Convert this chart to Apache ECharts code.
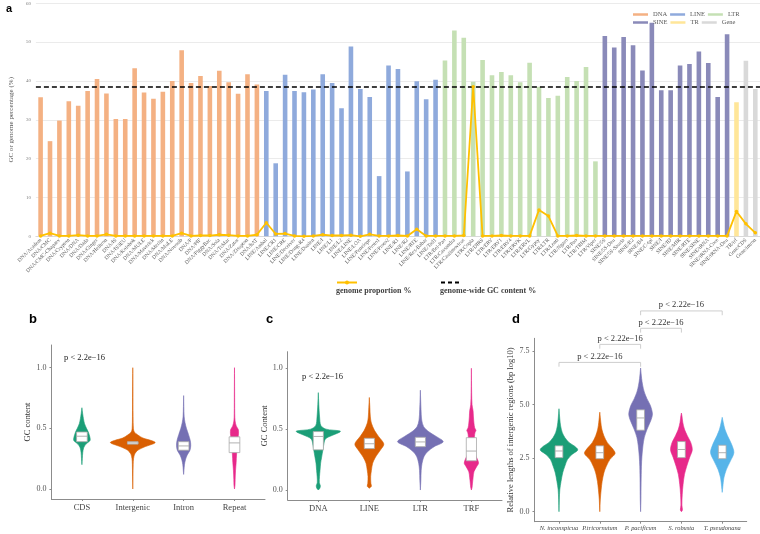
<!DOCTYPE html>
<html>
<head>
<meta charset="utf-8">
<script src="https://cdn.jsdelivr.net/npm/echarts@6/dist/echarts.min.js"></script>
<style>
  html, body { margin: 0; padding: 0; background: #fff; }
  #main { width: 760px; height: 534px; }
</style>
</head>
<body>
<div id="main"></div>
<script>
// ---- panel a: GC content per repeat class ----
const dnaNames = ['DNA/Academ', 'DNA/CMC', 'DNA/CMC-Chapaev', 'DNA/Crypton', 'DNA/DNA', 'DNA/Dada', 'DNA/Ginger', 'DNA/Helitron', 'DNA/IS', 'DNA/IS3EU', 'DNA/Kolobok', 'DNA/MULE', 'DNA/Maverick', 'DNA/Merlin', 'DNA/MuLE', 'DNA/Novosib', 'DNA/P', 'DNA/PIF', 'DNA/PiggyBac', 'DNA/Sola', 'DNA/TcMar', 'DNA/Zator', 'DNA/Zisupton', 'DNA/hAT'];
const dnaGC = [35.8, 24.5, 29.8, 34.8, 33.6, 37.4, 40.5, 36.8, 30.2, 30.2, 43.3, 37.0, 35.4, 37.2, 40.0, 47.9, 39.5, 41.3, 38.7, 42.6, 39.7, 36.7, 41.7, 39.1];
const dnaProp = [0.1, 0.8, 0.1, 0.1, 0.3, 0.1, 0.1, 0.5, 0.1, 0.1, 0.1, 0.1, 0.1, 0.1, 0.1, 0.8, 0.1, 0.2, 0.2, 0.4, 0.3, 0.1, 0.1, 0.4];

const lineNames = ['LINE/Ambal', 'LINE/CR1', 'LINE/CRE', 'LINE/Deceiver', 'LINE/Dong-R4', 'LINE/Dualen', 'LINE/I', 'LINE/L1', 'LINE/L2', 'LINE/LINE', 'LINE/LOA', 'LINE/Penelope', 'LINE/Proto1', 'LINE/Proto2', 'LINE/R1', 'LINE/R2', 'LINE/RTE', 'LINE/Rex-Babar', 'LINE/Tad1'];
const lineGC = [37.4, 18.8, 41.6, 37.4, 37.1, 37.8, 41.7, 39.5, 33.0, 48.9, 37.9, 35.9, 15.5, 44.0, 43.1, 16.7, 39.9, 35.3, 40.3];
const lineProp = [3.5, 0.6, 0.7, 0.1, 0.0, 0.1, 0.4, 0.2, 0.2, 0.3, 0.0, 0.5, 0.1, 0.1, 0.2, 0.1, 1.8, 0.1, 0.1];

const ltrNames = ['LTR/Bel-Pao', 'LTR/Cassandra', 'LTR/Caulimovirus', 'LTR/Copia', 'LTR/DIRS', 'LTR/ERV', 'LTR/ERV1', 'LTR/ERV4', 'LTR/ERVK', 'LTR/ERVL', 'LTR/Gypsy', 'LTR/LTR', 'LTR/Lenti', 'LTR/Ngaro', 'LTR/Pao', 'LTR/TRIM', 'LTR/Viper'];
const ltrGC = [45.3, 53.0, 51.1, 39.8, 45.4, 41.5, 42.3, 41.5, 39.7, 44.7, 38.5, 35.6, 36.2, 41.0, 40.0, 43.6, 19.3];
const ltrProp = [0.1, 0.1, 0.2, 38.5, 0.1, 0.1, 0.2, 0.1, 0.1, 0.1, 6.8, 5.2, 0.1, 0.1, 0.2, 0.1, 0.1];

const sineNames = ['SINE/5S', 'SINE/5S-Deu', 'SINE/5S-Sauria', 'SINE/B2', 'SINE/B4', 'SINE/C-tpl', 'SINE/I', 'SINE/ID', 'SINE/MIR', 'SINE/RTE', 'SINE/SINE', 'SINE/tRNA', 'SINE/tRNA-Core', 'SINE/tRNA-Deu'];
const sineGC = [51.6, 48.6, 51.3, 49.2, 42.7, 55.0, 37.6, 37.6, 44.0, 44.4, 47.6, 44.6, 35.9, 52.0];
const sineProp = [0.1, 0.1, 0.1, 0.1, 0.1, 0.1, 0.1, 0.1, 0.1, 0.1, 0.1, 0.1, 0.1, 0.1];

const trNames = ['TR/trf'];
const trGC = [34.5];
const trProp = [6.4];

const geneNames = ['Gene/CDS', 'Gene/intron'];
const geneGC = [45.2, 37.9];
const geneProp = [3.2, 0.9];

const genomeGC = 38.6;

// ---- panel b: GC content by region ----
const bCats = ['CDS', 'Intergenic', 'Intron', 'Repeat'];
const bCdsShape = [[0.2, 0], [0.25, 0.008], [0.30, 0.016], [0.34, 0.035], [0.37, 0.08], [0.40, 0.16], [0.43, 0.155], [0.47, 0.125], [0.50, 0.09], [0.54, 0.05], [0.58, 0.03], [0.62, 0.015], [0.67, 0]];
const bIntergenicShape = [[0, 0], [0.1, 0.004], [0.2, 0.008], [0.25, 0.015], [0.29, 0.04], [0.32, 0.1], [0.35, 0.25], [0.375, 0.42], [0.385, 0.44], [0.40, 0.36], [0.42, 0.2], [0.445, 0.1], [0.47, 0.03], [0.5, 0.012], [0.6, 0.006], [0.8, 0.004], [1.0, 0]];
const bIntronShape = [[0.12, 0], [0.15, 0.006], [0.2, 0.016], [0.24, 0.035], [0.28, 0.07], [0.32, 0.125], [0.36, 0.14], [0.40, 0.13], [0.45, 0.095], [0.50, 0.055], [0.55, 0.026], [0.6, 0.01], [0.68, 0.004], [0.77, 0]];
const bRepeatShape = [[0, 0], [0.03, 0.01], [0.08, 0.013], [0.15, 0.02], [0.22, 0.033], [0.28, 0.04], [0.33, 0.05], [0.38, 0.06], [0.42, 0.07], [0.46, 0.08], [0.49, 0.075], [0.52, 0.035], [0.56, 0.012], [0.62, 0.005], [0.8, 0.003], [1.0, 0]];
const bBoxes = [[0.39, 0.435, 0.47], [0.37, 0.38, 0.39], [0.32, 0.355, 0.39], [0.30, 0.38, 0.43]];

// ---- panel c: GC content by repeat class ----
const cCats = ['DNA', 'LINE', 'LTR', 'TRF'];
const cDnaShape = [[0, 0], [0.015, 0.03], [0.035, 0.04], [0.06, 0.02], [0.11, 0.023], [0.16, 0.033], [0.22, 0.045], [0.27, 0.065], [0.33, 0.09], [0.38, 0.11], [0.42, 0.14], [0.45, 0.28], [0.475, 0.42], [0.485, 0.43], [0.50, 0.15], [0.53, 0.05], [0.6, 0.025], [0.7, 0.01], [0.8, 0]];
const cLineShape = [[0.015, 0], [0.03, 0.04], [0.055, 0.03], [0.11, 0.026], [0.16, 0.04], [0.22, 0.065], [0.27, 0.12], [0.33, 0.22], [0.378, 0.284], [0.44, 0.18], [0.49, 0.1], [0.55, 0.04], [0.6, 0.02], [0.68, 0.01], [0.76, 0]];
const cLtrShape = [[0, 0], [0.08, 0.01], [0.16, 0.016], [0.22, 0.033], [0.274, 0.07], [0.315, 0.14], [0.356, 0.27], [0.397, 0.448], [0.44, 0.31], [0.48, 0.16], [0.52, 0.065], [0.575, 0.026], [0.66, 0.013], [0.74, 0.006], [0.82, 0]];
const cTrfShape = [[0, 0], [0.02, 0.013], [0.05, 0.02], [0.1, 0.033], [0.15, 0.05], [0.19, 0.1], [0.22, 0.14], [0.25, 0.12], [0.3, 0.07], [0.35, 0.06], [0.4, 0.06], [0.44, 0.06], [0.47, 0.07], [0.49, 0.09], [0.51, 0.065], [0.55, 0.05], [0.6, 0.04], [0.65, 0.033], [0.7, 0.013], [0.8, 0.005], [1.0, 0]];
const cBoxes = [[0.33, 0.44, 0.48], [0.34, 0.38, 0.425], [0.356, 0.395, 0.433], [0.24, 0.32, 0.43]];

// ---- panel d: intergenic lengths ----
const dCats = ['N. inconspicua', 'P.tricornutum', 'P. pacificum', 'S. robusta', 'T. pseudonana'];
const dNincShape = [[0, 0], [0.55, 0.008], [1.02, 0.02], [1.41, 0.05], [1.81, 0.09], [2.12, 0.143], [2.44, 0.21], [2.67, 0.32], [2.88, 0.46], [3.07, 0.37], [3.22, 0.25], [3.46, 0.143], [3.69, 0.08], [4.0, 0.04], [4.32, 0.02], [4.8, 0]];
const dPtriShape = [[0, 0], [0.55, 0.012], [1.02, 0.033], [1.41, 0.057], [1.81, 0.1], [2.12, 0.16], [2.44, 0.25], [2.72, 0.376], [2.99, 0.29], [3.22, 0.185], [3.54, 0.1], [3.85, 0.05], [4.17, 0.025], [4.64, 0]];
const dPpacShape = [[0, 0], [0.55, 0.008], [1.34, 0.012], [2.12, 0.02], [2.59, 0.033], [3.07, 0.057], [3.46, 0.09], [3.85, 0.16], [4.25, 0.25], [4.55, 0.29], [4.95, 0.24], [5.27, 0.155], [5.58, 0.09], [5.9, 0.05], [6.21, 0.025], [6.7, 0]];
const dSrobShape = [[0, 0], [0.08, 0.025], [0.31, 0.012], [0.79, 0.02], [1.26, 0.04], [1.73, 0.074], [2.12, 0.13], [2.52, 0.2], [2.88, 0.266], [3.22, 0.23], [3.54, 0.145], [3.85, 0.074], [4.17, 0.033], [4.48, 0.012], [4.6, 0]];
const dTpseShape = [[0.9, 0], [1.18, 0.016], [1.57, 0.04], [1.96, 0.1], [2.36, 0.2], [2.75, 0.286], [3.14, 0.23], [3.54, 0.13], [3.85, 0.065], [4.17, 0.025], [4.4, 0]];
const dBoxes = [[2.52, 2.83, 3.07], [2.47, 2.75, 3.07], [3.8, 4.37, 4.75], [2.52, 2.9, 3.27], [2.47, 2.75, 3.1]];
const dBracketFrom = [1, 2, 3, 3];
const dBracketTo = [3, 3, 4, 5];
const dBracketY = [6.96, 7.8, 8.55, 9.36];
const dBracketLabel = 'p < 2.22e\u221216';

// ---------------------------------------------------------------
const serif = 'Liberation Serif';
const classColors = ['#F4B183', '#8FAADC', '#C5E0B4', '#8A8AB9', '#FFE699', '#D9D9D9'];
const violinColors = ['#1B9E77', '#D95F02', '#7570B3', '#E7298A', '#56B4E9'];

const groups = [
  { name: 'DNA', labels: dnaNames, gc: dnaGC, prop: dnaProp },
  { name: 'LINE', labels: lineNames, gc: lineGC, prop: lineProp },
  { name: 'LTR', labels: ltrNames, gc: ltrGC, prop: ltrProp },
  { name: 'SINE', labels: sineNames, gc: sineGC, prop: sineProp },
  { name: 'TR', labels: trNames, gc: trGC, prop: trProp },
  { name: 'Gene', labels: geneNames, gc: geneGC, prop: geneProp },
];
const categories = [].concat(...groups.map(g => g.labels));
const proportion = [].concat(...groups.map(g => g.prop));

let offset = 0;
const barSeries = groups.map((g, k) => {
  const data = categories.map(() => '-');
  g.gc.forEach((v, j) => { data[offset + j] = v; });
  offset += g.gc.length;
  return {
    name: g.name,
    type: 'bar',
    stack: 'gc',
    xAxisIndex: 0,
    yAxisIndex: 0,
    barWidth: 4.6,
    itemStyle: { color: classColors[k] },
    data: data,
  };
});

function violinRenderer(shapes, boxes, boxHalf) {
  return function (params, api) {
    const i = params.dataIndex;
    const x = i + 1;
    const prof = shapes[i];
    const left = prof.map(p => api.coord([x - p[1], p[0]]));
    const right = prof.slice().reverse().map(p => api.coord([x + p[1], p[0]]));
    const color = violinColors[i];
    const b = boxes[i];
    const tl = api.coord([x - boxHalf, b[2]]);
    const br = api.coord([x + boxHalf, b[0]]);
    const ml = api.coord([x - boxHalf, b[1]]);
    const mr = api.coord([x + boxHalf, b[1]]);
    return {
      type: 'group',
      children: [
        { type: 'polygon', shape: { points: left.concat(right), smooth: 0.3 }, style: { fill: color, stroke: color, lineWidth: 0.6 } },
        { type: 'rect', shape: { x: tl[0], y: tl[1], width: br[0] - tl[0], height: br[1] - tl[1] }, style: { fill: '#fff', stroke: '#a8a8a8', lineWidth: 0.8 } },
        { type: 'line', shape: { x1: ml[0], y1: ml[1], x2: mr[0], y2: mr[1] }, style: { stroke: '#a8a8a8', lineWidth: 0.9 } },
      ],
    };
  };
}

function violinX(gridIndex, cats, max, fontSize, italic) {
  return {
    type: 'value', gridIndex: gridIndex, min: 0.4, max: max,
    axisLine: { show: true, onZero: false, lineStyle: { color: '#8c8c8c', width: 1 } },
    axisTick: { show: true, length: 2, customValues: cats.map((c, i) => i + 1), lineStyle: { color: '#8c8c8c' } },
    axisLabel: {
      customValues: cats.map((c, i) => i + 1),
      formatter: v => cats[Math.round(v) - 1],
      fontFamily: serif, fontSize: fontSize, color: '#444', margin: 4,
      fontStyle: italic ? 'italic' : 'normal',
    },
    splitLine: { show: false },
  };
}

function violinY(gridIndex, min, max, ticks, name, nameGap) {
  return {
    type: 'value', gridIndex: gridIndex, min: min, max: max,
    name: name, nameLocation: 'middle', nameGap: nameGap,
    nameTextStyle: { fontFamily: serif, fontSize: 8.5, color: '#333' },
    axisLine: { show: true, onZero: false, lineStyle: { color: '#8c8c8c', width: 1 } },
    axisTick: { show: true, length: 2, customValues: ticks, lineStyle: { color: '#8c8c8c' } },
    axisLabel: {
      customValues: ticks, formatter: v => v.toFixed(1),
      fontFamily: serif, fontSize: 8, color: '#555', margin: 5,
    },
    splitLine: { show: false },
  };
}

const chart = echarts.init(document.getElementById('main'));

const option = {
  animation: false,
  backgroundColor: '#fff',
  title: [
    { text: 'a', left: 1, top: -2, textStyle: { fontFamily: 'Liberation Sans', fontWeight: 'bold', fontSize: 11, color: '#000' } },
    { text: 'b', left: 24, top: 308, textStyle: { fontFamily: 'Liberation Sans', fontWeight: 'bold', fontSize: 13, color: '#000' } },
    { text: 'c', left: 261, top: 308, textStyle: { fontFamily: 'Liberation Sans', fontWeight: 'bold', fontSize: 13, color: '#000' } },
    { text: 'd', left: 507, top: 308, textStyle: { fontFamily: 'Liberation Sans', fontWeight: 'bold', fontSize: 13, color: '#000' } },
    { text: 'genome proportion %', left: 331, top: 282, textStyle: { fontFamily: serif, fontWeight: 'bold', fontSize: 8, color: '#404040' } },
    { text: 'genome-wide GC content %', left: 435, top: 282, textStyle: { fontFamily: serif, fontWeight: 'bold', fontSize: 8, color: '#404040' } },
    { text: 'p < 2.2e\u221216', left: 59, top: 348, textStyle: { fontFamily: serif, fontWeight: 'normal', fontSize: 8.5, color: '#222' } },
    { text: 'p < 2.2e\u221216', left: 297, top: 367, textStyle: { fontFamily: serif, fontWeight: 'normal', fontSize: 8.5, color: '#222' } },
  ],
  legend: [
    {
      data: ['DNA', 'LINE', 'LTR'], left: 628, top: 6, orient: 'horizontal',
      icon: 'rect', itemWidth: 15, itemHeight: 2.5, itemGap: 3,
      textStyle: { fontFamily: serif, fontSize: 6.5, color: '#595959', width: 21 },
    },
    {
      data: ['SINE', 'TR', 'Gene'], left: 628, top: 14, orient: 'horizontal',
      icon: 'rect', itemWidth: 15, itemHeight: 2.5, itemGap: 3,
      textStyle: { fontFamily: serif, fontSize: 6.5, color: '#595959', width: 21 },
    },
    {
      data: ['genome proportion %'], left: 331, top: 275,
      itemWidth: 20, itemHeight: 5, formatter: () => '',
    },
    {
      data: ['genome-wide GC content %'], left: 435, top: 275,
      itemWidth: 20, itemHeight: 5, formatter: () => '',
      itemStyle: { opacity: 0 },
    },
  ],
  grid: [
    { left: 32, right: 0, top: 3.3, height: 233 },
    { left: 51.4, width: 213.6, top: 345, height: 154 },
    { left: 287.7, width: 214.3, top: 351.7, height: 148.3 },
    { left: 534.5, width: 212.2, top: 338.3, height: 183.4 },
  ],
  xAxis: [
    {
      type: 'category', gridIndex: 0, data: categories,
      axisLine: { lineStyle: { color: '#d9d9d9' } },
      axisTick: { show: false },
      axisLabel: { interval: 0, rotate: 45, fontFamily: serif, fontSize: 5.4, color: '#595959', margin: 3 },
    },
    violinX(1, bCats, 4.6, 8.5, false),
    violinX(2, cCats, 4.6, 8.5, false),
    violinX(3, dCats, 5.6, 6.4, true),
  ],
  yAxis: [
    {
      type: 'value', gridIndex: 0, min: 0, max: 60, interval: 10,
      name: 'GC or genome percentage (%)', nameLocation: 'middle', nameGap: 17,
      nameTextStyle: { fontFamily: serif, fontSize: 7, color: '#595959' },
      axisLine: { show: false }, axisTick: { show: false },
      axisLabel: { fontFamily: serif, fontSize: 5, color: '#808080', margin: 5 },
      splitLine: { lineStyle: { color: '#e6e6e6', width: 0.8 } },
    },
    violinY(1, -0.0824, 1.187, [0, 0.5, 1], 'GC content', 18),
    violinY(2, -0.082, 1.136, [0, 0.5, 1], 'GC Content', 18),
    violinY(3, -0.466, 8.084, [0, 2.5, 5, 7.5], 'Relative lengths of intergenic regions (bp log10)', 16),
  ],
  series: barSeries.concat([
    {
      name: 'genome proportion %', type: 'line', xAxisIndex: 0, yAxisIndex: 0,
      data: proportion, symbol: 'circle', symbolSize: 3.5, z: 5,
      lineStyle: { color: '#FFC000', width: 1.8 },
      itemStyle: { color: '#FFC000' },
    },
    {
      name: 'genome-wide GC content %', type: 'line', xAxisIndex: 0, yAxisIndex: 0,
      data: [], symbol: 'none', z: 6,
      lineStyle: { color: '#000', type: [4, 3], width: 1.5 },
      itemStyle: { color: '#000' },
      markLine: {
        silent: true, symbol: 'none', label: { show: false },
        lineStyle: { color: '#000', type: [5, 3], width: 1.5 },
        data: [{ yAxis: genomeGC }],
      },
    },
    {
      type: 'custom', xAxisIndex: 1, yAxisIndex: 1, clip: false,
      data: bCats.map((c, i) => [i + 1, bBoxes[i][1]]),
      encode: { x: 0, y: 1 },
      renderItem: violinRenderer([bCdsShape, bIntergenicShape, bIntronShape, bRepeatShape], bBoxes, 0.105),
    },
    {
      type: 'custom', xAxisIndex: 2, yAxisIndex: 2, clip: false,
      data: cCats.map((c, i) => [i + 1, cBoxes[i][1]]),
      encode: { x: 0, y: 1 },
      renderItem: violinRenderer([cDnaShape, cLineShape, cLtrShape, cTrfShape], cBoxes, 0.1),
    },
    {
      type: 'custom', xAxisIndex: 3, yAxisIndex: 3, clip: false,
      data: dCats.map((c, i) => [i + 1, dBoxes[i][1]]),
      encode: { x: 0, y: 1 },
      renderItem: violinRenderer([dNincShape, dPtriShape, dPpacShape, dSrobShape, dTpseShape], dBoxes, 0.095),
    },
    {
      type: 'custom', xAxisIndex: 3, yAxisIndex: 3, clip: false,
      data: dBracketY.map((y, i) => [dBracketFrom[i], y, dBracketTo[i]]),
      encode: { x: 0, y: 1 },
      renderItem: function (params, api) {
        const i = params.dataIndex;
        const y = dBracketY[i];
        const a0 = api.coord([dBracketFrom[i], y - 0.2]);
        const a1 = api.coord([dBracketFrom[i], y]);
        const b1 = api.coord([dBracketTo[i], y]);
        const b0 = api.coord([dBracketTo[i], y - 0.2]);
        return {
          type: 'group',
          children: [
            { type: 'polyline', shape: { points: [a0, a1, b1, b0] }, style: { stroke: '#c8c8c8', lineWidth: 0.9, fill: null } },
            { type: 'text', x: (a1[0] + b1[0]) / 2, y: a1[1] - 1.5, style: { text: dBracketLabel, fill: '#333', font: '8.5px "Liberation Serif"', textAlign: 'center', textVerticalAlign: 'bottom' } },
          ],
        };
      },
    },
  ]),
};

chart.setOption(option);
</script>
</body>
</html>
